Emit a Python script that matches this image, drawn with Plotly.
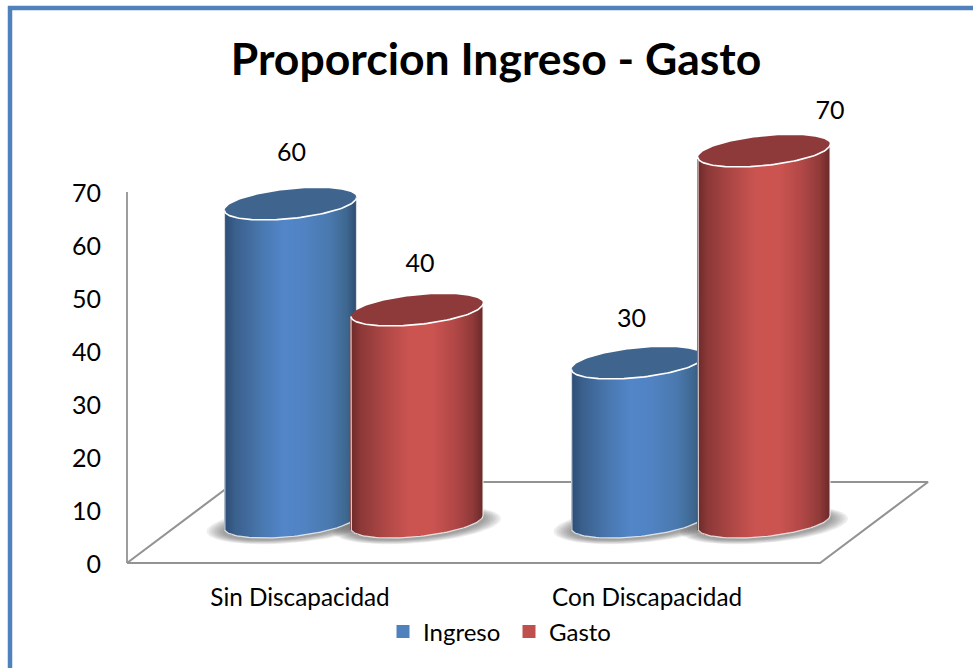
import numpy as np
import plotly.graph_objects as go

# ---- data ----
categories = ["Sin Discapacidad", "Con Discapacidad"]
ingreso = [60, 30]
gasto = [40, 70]
tick_values = [0, 10, 20, 30, 40, 50, 60, 70]
title_text = "Proporcion Ingreso - Gasto"

# ---- scale of the picture ----
W, H = 973, 668
ZERO_PX_Y, PX_PER_VALUE = 563, 5.3
CAT0_PX_X, PX_PER_CAT = 300, 347
x_range = [-CAT0_PX_X / PX_PER_CAT, (W - CAT0_PX_X) / PX_PER_CAT]
y_range = [(ZERO_PX_Y - H) / PX_PER_VALUE, ZERO_PX_Y / PX_PER_VALUE]

# ---- 3D projection parameters, in axis units ----
LIFT = 41 / PX_PER_VALUE            # cylinder bottoms sit this far above the front edge
A = 66 / PX_PER_CAT                 # ellipse half-width
B = 14.6 / PX_PER_VALUE             # ellipse half-height
TILT = 6.5 / PX_PER_VALUE           # right end of the ellipse is raised
OFFSETS = {"ingreso": -9.5 / PX_PER_CAT, "gasto": 117 / PX_PER_CAT}
DEPTH_X, DEPTH_Y = 108 / PX_PER_CAT, 81 / PX_PER_VALUE
BACK_LEFT_X = -65 / PX_PER_CAT
FRONT_LEFT, FRONT_RIGHT = -173 / PX_PER_CAT, 520 / PX_PER_CAT

BLUE_STOPS = [(0, "#2c4c74"), (.08, "#3a5f8b"), (.3, "#4a79b2"), (.45, "#5286c9"),
              (.6, "#5183c3"), (.8, "#4a79af"), (.93, "#3e678f"), (1, "#2e4d72")]
RED_STOPS = [(0, "#6b2828"), (.08, "#8c3838"), (.3, "#b44a48"), (.45, "#cb5451"),
             (.62, "#cb5451"), (.8, "#b04746"), (.93, "#8f3a39"), (1, "#6d2a2a")]
TOP_BLUE, TOP_RED = "#3f658f", "#8e3a3a"
BLUE_FLAT, RED_FLAT = "#4f81bd", "#c0504d"
AXIS_GREY = "#939393"
FONT = "Lato"


def hex_rgb(c):
    return np.array([int(c[i:i + 2], 16) for i in (1, 3, 5)], float)


def gradient(stops, t):
    pos = [s[0] for s in stops]
    cols = np.array([hex_rgb(s[1]) for s in stops])
    out = []
    for v in t:
        rgb = [np.interp(v, pos, cols[:, k]) for k in range(3)]
        out.append("rgb(%d,%d,%d)" % tuple(round(c) for c in rgb))
    return out


def ellipse(cx, cy, a=A, b=B, tilt=TILT, t=None):
    t = np.linspace(0, 2 * np.pi, 121) if t is None else t
    return cx + a * np.cos(t), cy + tilt * np.cos(t) + b * np.sin(t)


def cylinder(cx, value, stops, top_color, z):
    traces = []
    n = int(round(2 * A * PX_PER_CAT))
    u = (np.arange(n) + 0.5) / n * 2 - 1
    arc = TILT * u - B * np.sqrt(1 - u ** 2)
    traces.append(go.Bar(
        x=cx + u * A, y=[value] * n, base=LIFT + arc, width=1.4 / PX_PER_CAT,
        marker=dict(color=gradient(stops, (u + 1) / 2), line=dict(width=0)),
        showlegend=False, hoverinfo="skip", zorder=z))
    # pale outline: sides and bottom
    tb = np.linspace(np.pi, 2 * np.pi, 61)
    xb, yb = ellipse(cx, LIFT, t=tb)
    traces.append(go.Scatter(
        x=[cx - A, *xb, cx + A], y=[LIFT - TILT + value, *yb, LIFT + TILT + value],
        mode="lines", line=dict(color="rgba(245,245,245,0.85)", width=1.2),
        showlegend=False, hoverinfo="skip", zorder=z))
    # top cap
    xt, yt = ellipse(cx, LIFT + value)
    traces.append(go.Scatter(
        x=xt, y=yt, mode="lines", fill="toself", fillcolor=top_color,
        line=dict(width=0, color=top_color),
        showlegend=False, hoverinfo="skip", zorder=z))
    xf, yf = ellipse(cx, LIFT + value, t=tb)
    traces.append(go.Scatter(
        x=xf, y=yf, mode="lines", line=dict(color="white", width=1.6),
        showlegend=False, hoverinfo="skip", zorder=z))
    return traces


def shadow(cx):
    traces = []
    for k in range(7):
        xs, ys = ellipse(cx, LIFT - 3 / PX_PER_VALUE,
                         a=A + (18 - 2.6 * k) / PX_PER_CAT,
                         b=B + (3.5 - 0.7 * k) / PX_PER_VALUE)
        traces.append(go.Scatter(
            x=xs, y=ys, mode="lines", fill="toself", fillcolor="rgba(70,70,70,0.09)",
            line=dict(width=0), showlegend=False, hoverinfo="skip", zorder=0))
    return traces


fig = go.Figure()

# floor and wall edge
floor_x = [FRONT_LEFT, FRONT_RIGHT, FRONT_RIGHT + DEPTH_X, BACK_LEFT_X, FRONT_LEFT]
floor_y = [0, 0, DEPTH_Y, DEPTH_Y, 0]
fig.add_trace(go.Scatter(x=floor_x, y=floor_y, mode="lines",
                         line=dict(color=AXIS_GREY, width=2.1),
                         showlegend=False, hoverinfo="skip", zorder=0))
fig.add_trace(go.Scatter(x=[FRONT_LEFT, FRONT_LEFT], y=[tick_values[0], tick_values[-1]],
                         mode="lines", line=dict(color=AXIS_GREY, width=1.8),
                         showlegend=False, hoverinfo="skip", zorder=0))

positions = list(range(len(categories)))
for i in positions:
    for key in ("ingreso", "gasto"):
        for tr in shadow(i + OFFSETS[key]):
            fig.add_trace(tr)

z = 1
for i in positions:
    for key, vals, stops, top in (("ingreso", ingreso, BLUE_STOPS, TOP_BLUE),
                                  ("gasto", gasto, RED_STOPS, TOP_RED)):
        for tr in cylinder(i + OFFSETS[key], vals[i], stops, top, z):
            fig.add_trace(tr)
        z += 1

# value labels
label_dx = {"ingreso": [1 / PX_PER_CAT, -6 / PX_PER_CAT], "gasto": [3 / PX_PER_CAT, 66 / PX_PER_CAT]}
label_dy = {"ingreso": [49 / PX_PER_VALUE, 42 / PX_PER_VALUE], "gasto": [44 / PX_PER_VALUE, 38 / PX_PER_VALUE]}
for key, vals in (("ingreso", ingreso), ("gasto", gasto)):
    fig.add_trace(go.Scatter(
        x=[i + OFFSETS[key] + label_dx[key][i] for i in positions],
        y=[LIFT + vals[i] + label_dy[key][i] for i in positions],
        text=[str(v) for v in vals], mode="text", textposition="middle center",
        textfont=dict(family=FONT, size=25, color="black"),
        showlegend=False, hoverinfo="skip", zorder=10))

# legend entries
fig.add_trace(go.Scatter(x=[None], y=[None], mode="markers", name="Ingreso",
                         marker=dict(symbol="square", size=13, color=BLUE_FLAT)))
fig.add_trace(go.Scatter(x=[None], y=[None], mode="markers", name="Gasto",
                         marker=dict(symbol="square", size=13, color=RED_FLAT)))

fig.update_layout(
    width=W, height=H, margin=dict(l=0, r=0, t=0, b=0),
    paper_bgcolor="white", plot_bgcolor="rgba(0,0,0,0)",
    barmode="overlay", bargap=0, hovermode=False,
    title=dict(text="<b>%s</b>" % title_text, x=496 / W, y=1 - 59 / H,
               xanchor="center", yanchor="middle",
               font=dict(family=FONT, size=44.5, color="black")),
    xaxis=dict(range=x_range, domain=[0, 1], anchor="free",
               position=(H - ZERO_PX_Y) / H,
               tickmode="array", tickvals=positions, ticktext=categories,
               ticks="outside", ticklen=13, tickcolor="rgba(0,0,0,0)",
               showgrid=False, zeroline=False, showline=False,
               tickfont=dict(family=FONT, size=24.3, color="black")),
    yaxis=dict(range=y_range, domain=[0, 1], anchor="free",
               position=(CAT0_PX_X - 173) / W,
               tickmode="array", tickvals=tick_values,
               ticks="outside", ticklen=21, tickcolor="rgba(0,0,0,0)",
               ticklabelshift=1,
               showgrid=False, zeroline=False, showline=False,
               tickfont=dict(family=FONT, size=25, color="black")),
    legend=dict(orientation="h", x=383 / W, xanchor="left", y=1 - 632 / H, yanchor="middle",
                entrywidth=81, entrywidthmode="pixels", itemwidth=30,
                bgcolor="rgba(0,0,0,0)", borderwidth=0,
                font=dict(family=FONT, size=24, color="black")),
    shapes=[
        dict(type="line", xref="paper", yref="paper", x0=10 / W, x1=10 / W, y0=0, y1=1 - 6 / H,
             line=dict(color=BLUE_FLAT, width=4.5)),
        dict(type="line", xref="paper", yref="paper", x0=8 / W, x1=1, y0=1 - 8 / H, y1=1 - 8 / H,
             line=dict(color=BLUE_FLAT, width=4.5)),
    ],
)

fig.write_html("out.html", config={"displayModeBar": False},
               post_script="document.body.style.margin='0';document.body.style.overflow='hidden';")
